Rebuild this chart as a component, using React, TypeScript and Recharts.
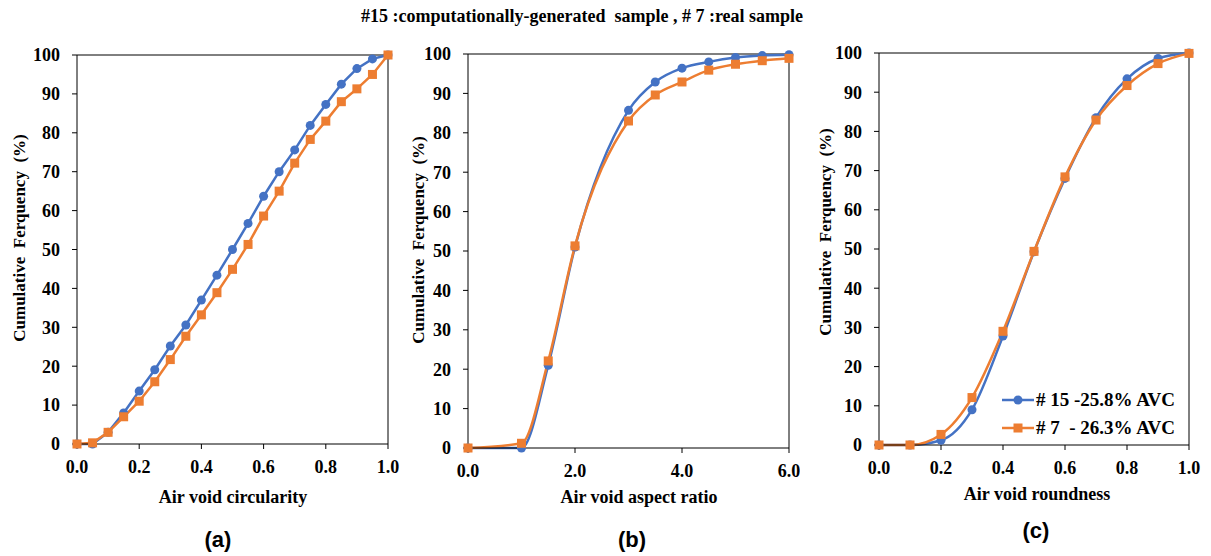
import React from 'react';
import { LineChart, Line, XAxis, YAxis, ReferenceLine, Legend } from 'recharts';

// ---------- data ----------
const circX = [0, 0.05, 0.1, 0.15, 0.2, 0.25, 0.3, 0.35, 0.4, 0.45, 0.5, 0.55, 0.6, 0.65, 0.7, 0.75, 0.8, 0.85, 0.9, 0.95, 1.0];
const circS15 = [0, 0, 3, 8, 13.6, 19.1, 25.2, 30.6, 37, 43.4, 50, 56.7, 63.7, 70, 75.6, 81.9, 87.3, 92.5, 96.5, 99, 100];
const circS7 = [0, 0.3, 3, 7, 11, 16, 21.7, 27.7, 33.2, 38.9, 44.9, 51.3, 58.6, 65, 72.2, 78.3, 83, 88, 91.3, 95, 100];

const aspX = [0, 1, 1.5, 2, 3, 3.5, 4, 4.5, 5, 5.5, 6];
const aspS15 = [0, 0, 21, 51, 85.7, 92.9, 96.4, 98, 99.1, 99.6, 99.8];
const aspS7 = [0, 1.2, 22.1, 51.3, 83, 89.6, 92.9, 95.9, 97.4, 98.3, 98.9];

const rndX = [0, 0.1, 0.2, 0.3, 0.4, 0.5, 0.6, 0.7, 0.8, 0.9, 1.0];
const rndS15 = [0, 0, 1.2, 9, 27.8, 49.3, 68, 83.5, 93.4, 98.6, 100];
const rndS7 = [0, 0, 2.7, 12.1, 29, 49.4, 68.4, 82.9, 91.7, 97.3, 99.9];

const yTicks = [0, 10, 20, 30, 40, 50, 60, 70, 80, 90, 100];
const unitTicks = [0, 0.2, 0.4, 0.6, 0.8, 1.0];
const aspTicks = [0, 2, 4, 6];

const seriesNames = ['# 15 -25.8% AVC', '# 7  - 26.3% AVC'];
const title = '#15 :computationally-generated  sample , # 7 :real sample';
const yLabel = 'Cumulative  Ferquency  (%)';

const BLUE = '#4472C4';
const ORANGE = '#ED7D31';
const SERIF = '"Liberation Serif", "Times New Roman", serif';
const SANS = '"Liberation Sans", Arial, sans-serif';

const build = (xs: number[], a: number[], b: number[]) =>
  xs.map((x, i) => ({ x, s15: a[i], s7: b[i] }));

const tickStyle = { fill: '#000', fontSize: 18, fontWeight: 700, fontFamily: SERIF };

const SquareDot = (props: any) => {
  const { cx, cy, index } = props;
  if (cx == null || cy == null) return <g key={`sq-${index}`} />;
  return <rect key={`sq-${index}`} x={cx - 4.5} y={cy - 4.5} width={9} height={9} fill={ORANGE} />;
};

const LegendContent = () => (
  <div style={{ fontFamily: SERIF, fontWeight: 700, fontSize: 19, color: '#000' }}>
    {[0, 1].map((i) => (
      <div key={i} style={{ display: 'flex', alignItems: 'center', height: 28, whiteSpace: 'pre' }}>
        <svg width={32} height={12} style={{ marginRight: 2 }}>
          <line x1={0} y1={6} x2={32} y2={6} stroke={i === 0 ? BLUE : ORANGE} strokeWidth={2.5} />
          {i === 0 ? (
            <circle cx={16} cy={6} r={4.5} fill={BLUE} />
          ) : (
            <rect x={11.5} y={1.5} width={9} height={9} fill={ORANGE} />
          )}
        </svg>
        <span>{seriesNames[i]}</span>
      </div>
    ))}
  </div>
);

type PanelProps = {
  data: { x: number; s15: number; s7: number }[];
  xTicks: number[];
  xMax: number;
  curve: 'linear' | 'monotone';
  width: number;
  margin: { top: number; right: number; bottom: number; left: number };
  legend?: boolean;
};

const Panel = ({ data, xTicks, xMax, curve, width, margin, legend }: PanelProps) => (
  <LineChart width={width} height={520} data={data} margin={margin}>
    <XAxis
      dataKey="x"
      type="number"
      domain={[0, xMax]}
      ticks={xTicks}
      tickFormatter={(v: number) => v.toFixed(1)}
      tick={tickStyle}
      tickSize={5}
      tickMargin={11}
      height={30}
      stroke="#000"
      allowDecimals
      interval={0}
    />
    <YAxis
      type="number"
      domain={[0, 100]}
      ticks={yTicks}
      tick={tickStyle}
      tickSize={5}
      tickMargin={12}
      width={60}
      stroke="#000"
      interval={0}
    />
    <ReferenceLine y={100} stroke="#000" strokeWidth={1} />
    <ReferenceLine x={xMax} stroke="#000" strokeWidth={1} />
    <Line
      dataKey="s15"
      type={curve}
      stroke={BLUE}
      strokeWidth={2.5}
      dot={{ r: 4.5, fill: BLUE, stroke: BLUE, strokeWidth: 0 }}
      activeDot={false}
      isAnimationActive={false}
    />
    <Line
      dataKey="s7"
      type={curve}
      stroke={ORANGE}
      strokeWidth={2.5}
      dot={SquareDot}
      activeDot={false}
      isAnimationActive={false}
    />
    {legend && (
      <Legend
        layout="horizontal"
        verticalAlign="middle"
        align="center"
        content={LegendContent}
        wrapperStyle={{ left: 202, top: 386, width: 'auto' }}
      />
    )}
  </LineChart>
);

const abs = (left: number, top: number): React.CSSProperties => ({ position: 'absolute', left, top });

const TextAt = ({ cx, cy, text, size, rotate, font }: { cx: number; cy: number; text: string; size: number; rotate?: boolean; font?: string }) => (
  <div
    style={{
      position: 'absolute',
      left: cx - 250,
      top: cy - 15,
      width: 500,
      height: 30,
      lineHeight: '30px',
      textAlign: 'center',
      fontFamily: font || SERIF,
      fontWeight: 700,
      fontSize: size,
      whiteSpace: 'pre',
      color: '#000',
      transform: rotate ? 'rotate(-90deg)' : undefined,
    }}
  >
    {text}
  </div>
);

export default function App() {
  return (
    <div style={{ position: 'absolute', left: 0, top: 0, width: 1211, height: 556, background: '#fff', overflow: 'hidden' }}>
      <div style={abs(0, 0)}>
        <Panel data={build(circX, circS15, circS7)} xTicks={unitTicks} xMax={1} curve="linear" width={400}
          margin={{ top: 55, right: 12, bottom: 46, left: 17 }} />
      </div>
      <div style={abs(400, 0)}>
        <Panel data={build(aspX, aspS15, aspS7)} xTicks={aspTicks} xMax={6} curve="monotone" width={400}
          margin={{ top: 54, right: 11, bottom: 42, left: 8 }} />
      </div>
      <div style={abs(800, 0)}>
        <Panel data={build(rndX, rndS15, rndS7)} xTicks={unitTicks} xMax={1} curve="monotone" width={411}
          margin={{ top: 53, right: 22, bottom: 45, left: 19 }} legend />
      </div>
      <TextAt cx={582} cy={16} text={title} size={18} />
      <TextAt cx={20} cy={238} text={yLabel} size={17} rotate />
      <TextAt cx={419} cy={240} text={yLabel} size={17} rotate />
      <TextAt cx={826} cy={232} text={yLabel} size={17} rotate />
      <TextAt cx={233} cy={497} text="Air void circularity" size={18} />
      <TextAt cx={639} cy={497} text="Air void aspect ratio" size={18} />
      <TextAt cx={1037} cy={494} text="Air void roundness" size={18} />
      <TextAt cx={218} cy={540} text="(a)" size={22} font={SANS} />
      <TextAt cx={632} cy={540} text="(b)" size={22} font={SANS} />
      <TextAt cx={1036} cy={531} text="(c)" size={22} font={SANS} />
    </div>
  );
}
